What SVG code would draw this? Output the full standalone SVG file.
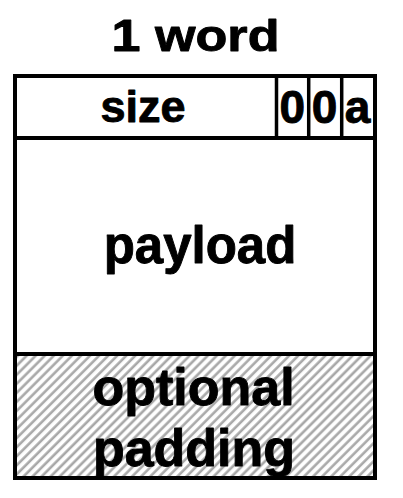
<svg xmlns="http://www.w3.org/2000/svg" width="403" height="498" viewBox="0 0 403 498">
  <style>
    .lbl { font-family: "Liberation Sans", Arial, sans-serif; font-weight: bold; fill: #000; stroke: #000; stroke-width: 0.9; stroke-linejoin: round; text-anchor: middle; }
    .frame { fill: none; stroke: #000; stroke-width: 4; }
    .rule { stroke: #000; stroke-width: 4; }
    .thin { stroke: #000; stroke-width: 3.5; }
  </style>
  <defs>
    <!-- diagonal gray stripes for the optional padding area -->
    <pattern id="hatch" patternUnits="userSpaceOnUse" width="6.4" height="6.4" patternTransform="rotate(45)">
      <rect width="6.4" height="6.4" fill="#fff"/>
      <line x1="1.6" y1="0" x2="1.6" y2="6.4" stroke="#a8a8a8" stroke-width="2.6"/>
    </pattern>
  </defs>
  <rect width="403" height="498" fill="#fff"/>

  <g id="title">
    <text class="lbl" x="195.5" y="51" font-size="45" textLength="168" lengthAdjust="spacingAndGlyphs">1 word</text>
  </g>

  <g id="header">
    <rect x="15" y="76" width="360" height="62" fill="#fff"/>
    <text class="lbl" x="143" y="122" font-size="45">size</text>
  </g>

  <g id="bits">
    <line class="thin" x1="276.5" y1="76" x2="276.5" y2="138"/>
    <line class="thin" x1="308.7" y1="76" x2="308.7" y2="138"/>
    <line class="thin" x1="341.7" y1="76" x2="341.7" y2="138"/>
    <text class="lbl" x="292.3" y="123" font-size="46">0</text>
    <text class="lbl" x="324.5" y="123" font-size="46">0</text>
    <text class="lbl" x="357.5" y="123" font-size="46">a</text>
  </g>

  <g id="payload">
    <text class="lbl" x="200" y="263" font-size="51">payload</text>
  </g>

  <g id="padding">
    <rect x="15" y="354" width="360" height="124" fill="url(#hatch)"/>
    <text class="lbl" x="193.5" y="405" font-size="52">optional</text>
    <text class="lbl" x="194" y="466" font-size="52">padding</text>
  </g>

  <g id="frame">
    <line class="rule" x1="15" y1="138" x2="375" y2="138"/>
    <line class="rule" x1="15" y1="354" x2="375" y2="354"/>
    <rect class="frame" x="15" y="76" width="360" height="402"/>
  </g>
</svg>
